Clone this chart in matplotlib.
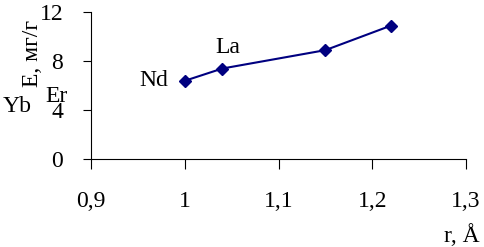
import matplotlib.pyplot as plt
from matplotlib.ticker import FixedLocator, FuncFormatter

r = [1.0, 1.04, 1.15, 1.22]
E = [6.4, 7.4, 8.9, 10.9]
x_ticks = [0.9, 1.0, 1.1, 1.2, 1.3]
y_ticks = [0, 4, 8, 12]
labels = {"Nd": (0.318, 0.676), "La": (0.470, 0.806), "Er": (0.117, 0.610), "Yb": (0.035, 0.568)}

plt.rcParams["font.family"] = ["Liberation Serif", "DejaVu Serif"]

fig = plt.figure(figsize=(4.85, 2.47), dpi=100)
ax = fig.add_axes([0.1876, 0.355, 0.7734, 0.596])
ax.plot(r, E, color="#000080", lw=1.5, marker="D", ms=6.5, mec="#000080", mfc="#000080")

ax.set_xlim(0.9, 1.3)
ax.set_ylim(0, 12)
ax.xaxis.set_major_locator(FixedLocator(x_ticks))
ax.yaxis.set_major_locator(FixedLocator(y_ticks))
ax.xaxis.set_major_formatter(FuncFormatter(lambda v, p: ("%g" % round(v, 2)).replace(".", ",")))
ax.spines["top"].set_visible(False)
ax.spines["right"].set_visible(False)
ax.tick_params(axis="x", direction="out", length=7, width=0.8, pad=16, labelsize=17)
ax.tick_params(axis="y", direction="out", length=6, width=0.8, pad=14, labelsize=17)

for name, (fx, fy) in labels.items():
    fig.text(fx, fy, name, fontsize=17, ha="center", va="center")
fig.text(0.066, 0.785, "E, мг/г", fontsize=17, rotation=90, ha="center", va="center")
fig.text(0.952, 0.045, "r, Å", fontsize=17, ha="center", va="center")

fig.savefig("out.png", dpi=100)
